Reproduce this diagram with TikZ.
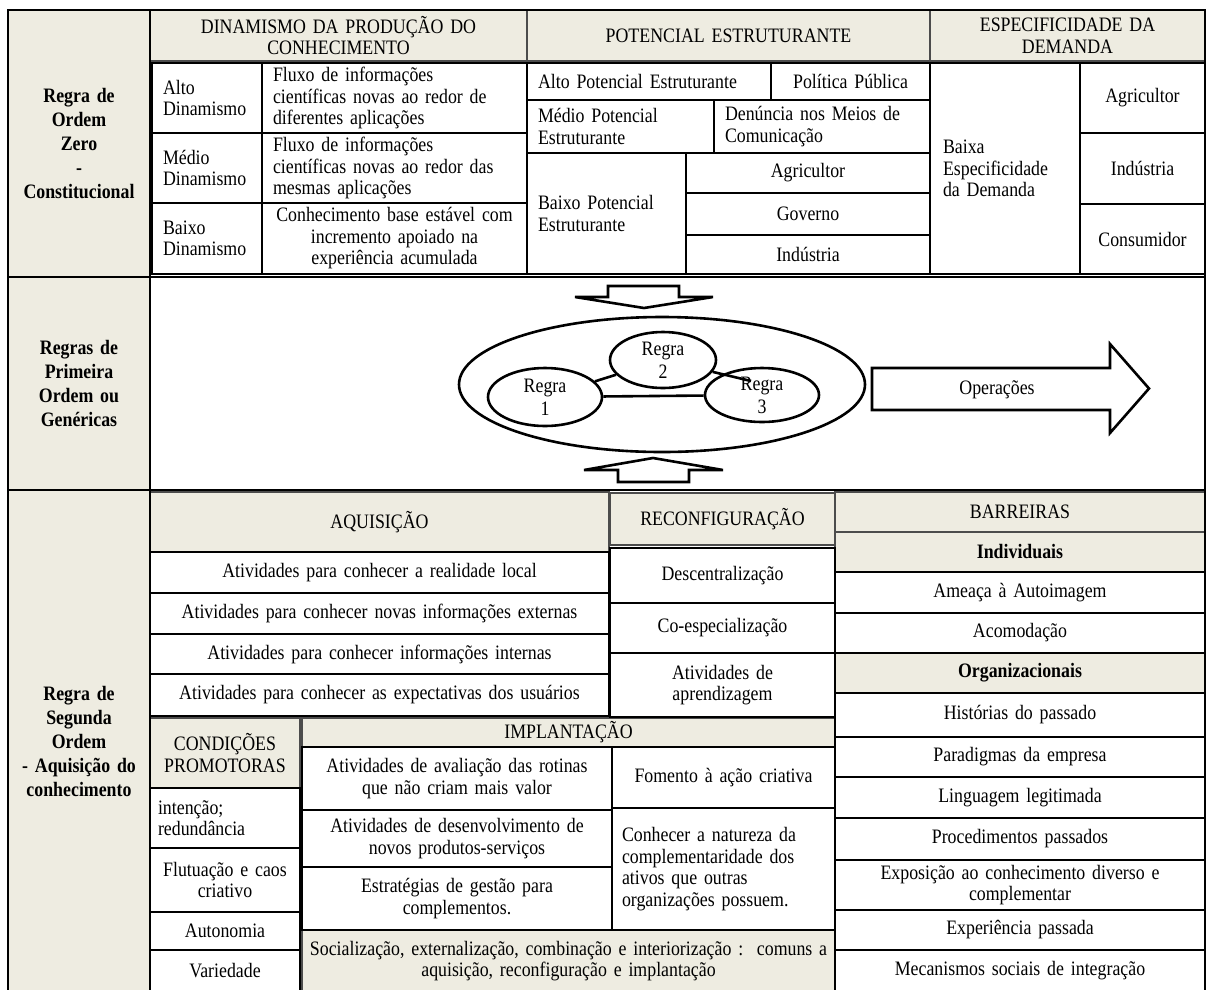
\documentclass[tikz,border=0pt]{standalone}
\usepackage{fontspec}
\setmainfont{Liberation Serif}[FakeStretch=0.87]
\usetikzlibrary{shapes.geometric}
\definecolor{beige}{HTML}{EEECE1}
% #1 xsep, #2 style, #3 name, #4 x1, #5 y1, #6 x2, #7 y2, #8 text
\newcommand{\mkcell}[8][4]{%
  \pgfmathsetmacro{\cellW}{#6-#4}%
  \pgfmathsetmacro{\cellH}{#7-#5}%
  \pgfmathsetmacro{\cellX}{(#4+#6)/2}%
  \pgfmathsetmacro{\cellY}{(#5+#7)/2}%
  \pgfmathsetmacro{\cellT}{#6-#4-2*#1}%
  \node[#2, minimum width=\cellW pt, minimum height=\cellH pt,
        text width=\cellT pt, inner xsep=#1pt] (#3) at (\cellX,\cellY) {#8};}
\tikzset{
  cellbase/.style={outer sep=0pt, inner ysep=0pt, anchor=center,
                   font=\fontsize{20.5}{21.5}\selectfont},
  wc/.style={cellbase, fill=white, draw=black, line width=2.6pt, align=center},
  wl/.style={wc, align=left},
  bc/.style={cellbase, fill=beige, draw=black!70, line width=1.2pt, align=center},
  bl/.style={bc, align=left},
  bb/.style={bc, font=\fontsize{20.5}{21.5}\selectfont\bfseries},
  side/.style={cellbase, fill=beige, draw=black, line width=1.5pt, align=center,
               font=\fontsize{20.5}{24}\selectfont\bfseries},
  ruleell/.style={ellipse, draw=black, line width=2.6pt, fill=white, inner sep=0pt,
                  align=center, font=\fontsize{20.5}{23}\selectfont},
  bigarrow/.style={draw=black, line width=2.6pt, fill=white, line join=miter},
  frame/.style={draw=black, line width=2pt},
}
\begin{document}
\begin{tikzpicture}[x=1pt,y=-1pt]
\useasboundingbox (0,0) rectangle (1210,989);
\fill[white] (0,0) rectangle (1210,989);

% ---------------- Section 1: Regra de Ordem Zero ----------------
\mkcell{side}{lz}{8}{10}{150}{277}{Regra de\\Ordem\\Zero\\-\\Constitucional}
\mkcell{bc}{h1}{150}{10}{527}{61}{DINAMISMO DA PRODUÇÃO DO\\CONHECIMENTO}
\mkcell{bc}{h2}{527}{10}{930}{61}{POTENCIAL ESTRUTURANTE}
\mkcell{bc}{h3}{930}{10}{1205}{61}{ESPECIFICIDADE DA\\DEMANDA}

\mkcell[11]{wl}{d1l}{152}{63}{262}{133}{Alto\\Dinamismo}
\mkcell[11]{wl}{d1r}{262}{63}{527}{133}{Fluxo de informações\\científicas novas ao redor de\\diferentes aplicações}
\mkcell[11]{wl}{d2l}{152}{133}{262}{203}{Médio\\Dinamismo}
\mkcell[11]{wl}{d2r}{262}{133}{527}{203}{Fluxo de informações\\científicas novas ao redor das\\mesmas aplicações}
\mkcell[11]{wl}{d3l}{152}{203}{262}{274}{Baixo\\Dinamismo}
\mkcell{wc}{d3r}{262}{203}{527}{274}{Conhecimento base estável com\\incremento apoiado na\\experiência acumulada}

\mkcell[11]{wl}{p1l}{527}{63}{771}{100}{Alto Potencial Estruturante}
\mkcell{wc}{p1r}{771}{63}{930}{100}{Política Pública}
\mkcell[11]{wl}{p2l}{527}{100}{714}{153}{Médio Potencial\\Estruturante}
\mkcell[11]{wl}{p2r}{714}{100}{930}{153}{Denúncia nos Meios de\\Comunicação}
\mkcell[11]{wl}{p3l}{527}{153}{686}{274}{Baixo Potencial\\Estruturante}
\mkcell{wc}{p3a}{686}{153}{930}{193}{Agricultor}
\mkcell{wc}{p3b}{686}{193}{930}{235}{Governo}
\mkcell{wc}{p3c}{686}{235}{930}{274}{Indústria}

\mkcell[13]{wl}{e1}{930}{63}{1080}{274}{Baixa\\Especificidade\\da Demanda}
\mkcell{wc}{e2a}{1080}{63}{1205}{133}{Agricultor}
\mkcell{wc}{e2b}{1080}{133}{1205}{204}{Indústria}
\mkcell{wc}{e2c}{1080}{204}{1205}{274}{Consumidor}

% ---------------- Section 2: Regras de Primeira Ordem ----------------
\mkcell{side}{ml}{8}{277}{150}{490}{Regras de\\Primeira\\Ordem ou\\Genéricas}

\draw[bigarrow] (608,286) -- (679,286) -- (679,297) -- (713,297) -- (644,308)
  -- (575,297) -- (608,297) -- cycle;
\draw[bigarrow] (618,482) -- (689,482) -- (689,470) -- (723,470) -- (653,458)
  -- (584,470) -- (618,470) -- cycle;

\node[ellipse, draw=black, line width=2.6pt, minimum width=406pt, minimum height=135pt,
      inner sep=0pt] (outer) at (662,384.5) {};
\node[ruleell, minimum width=114pt, minimum height=58pt] (r1) at (545,397) {Regra\\1};
\node[ruleell, minimum width=106pt, minimum height=56pt] (r2) at (663,360) {Regra\\2};
\node[ruleell, minimum width=114pt, minimum height=54pt, fill=none] (r3) at (762,395) {Regra\\3};
\coordinate (r3in) at (751,381);
\draw[line width=2.6pt] (r1) -- (r2);
\draw[line width=2.6pt] (r1) -- (r3);
\draw[line width=2.6pt] (r2) -- (r3in);

\draw[bigarrow] (872,368) -- (1110,368) -- (1110,344) -- (1149,388.5) -- (1110,433)
  -- (1110,410) -- (872,410) -- cycle;
\node[font=\fontsize{20.5}{21.5}\selectfont] (op) at (997,390) {Operações};

% ---------------- Section 3: Regra de Segunda Ordem ----------------
\mkcell{side}{bl}{8}{490}{150}{993}{Regra de\\Segunda\\Ordem\\- Aquisição do\\conhecimento}

\mkcell{bc}{aqh}{150}{492}{609}{552}{AQUISIÇÃO}
\mkcell{bc}{rch}{610}{493}{835}{545}{RECONFIGURAÇÃO}
\mkcell{bc}{bah}{835}{492}{1205}{532}{BARREIRAS}
\mkcell{bb}{bai}{835}{532}{1205}{572}{Individuais}
\mkcell{bb}{bao}{835}{653}{1205}{693}{Organizacionais}
\mkcell{bc}{cph}{150}{718}{300}{788}{CONDIÇÕES\\PROMOTORAS}
\mkcell{bc}{imh}{302}{718}{835}{747}{IMPLANTAÇÃO}
\mkcell{bc}{soc}{302}{930}{835}{992}{Socialização, externalização, combinação e interiorização :\ \ comuns a\\aquisição, reconfiguração e implantação}

\mkcell{wc}{aq1}{150}{552}{609}{593}{Atividades para conhecer a realidade local}
\mkcell{wc}{aq2}{150}{593}{609}{634}{Atividades para conhecer novas informações externas}
\mkcell{wc}{aq3}{150}{634}{609}{674}{Atividades para conhecer informações internas}
\mkcell{wc}{aq4}{150}{674}{609}{716}{Atividades para conhecer as expectativas dos usuários}

\mkcell{wc}{rc1}{610}{548}{835}{603}{Descentralização}
\mkcell{wc}{rc2}{610}{603}{835}{653}{Co-especialização}
\mkcell{wc}{rc3}{610}{653}{835}{717}{Atividades de\\aprendizagem}

\mkcell{wc}{ba1}{835}{572}{1205}{613}{Ameaça à Autoimagem}
\mkcell{wc}{ba2}{835}{613}{1205}{653}{Acomodação}
\mkcell{wc}{ba3}{835}{693}{1205}{737}{Histórias do passado}
\mkcell{wc}{ba4}{835}{737}{1205}{777}{Paradigmas da empresa}
\mkcell{wc}{ba5}{835}{777}{1205}{818}{Linguagem legitimada}
\mkcell{wc}{ba6}{835}{818}{1205}{860}{Procedimentos passados}
\mkcell{wc}{ba7}{835}{860}{1205}{910}{Exposição ao conhecimento diverso e\\complementar}
\mkcell{wc}{ba8}{835}{910}{1205}{950}{Experiência passada}
\mkcell{wc}{ba9}{835}{950}{1205}{992}{Mecanismos sociais de integração}

\mkcell[8]{wl}{cp1}{150}{788}{300}{848}{intenção;\\redundância}
\mkcell{wc}{cp2}{150}{848}{300}{912}{Flutuação e caos\\criativo}
\mkcell{wc}{cp3}{150}{912}{300}{950}{Autonomia}
\mkcell{wc}{cp4}{150}{950}{300}{992}{Variedade}

\mkcell{wc}{im1}{302}{747}{612}{810}{Atividades de avaliação das rotinas\\que não criam mais valor}
\mkcell{wc}{im2}{302}{810}{612}{867}{Atividades de desenvolvimento de\\novos produtos-serviços}
\mkcell{wc}{im3}{302}{867}{612}{930}{Estratégias de gestão para\\complementos.}
\mkcell{wc}{im4}{612}{747}{835}{808}{Fomento à ação criativa}
\mkcell[10]{wl}{im5}{612}{808}{835}{930}{Conhecer a natureza da\\complementaridade dos\\ativos que outras\\organizações possuem.}

% ---------------- frame ----------------
\draw[frame] (8,10) rectangle (1205,995);
\draw[frame] (8,277) -- (1205,277);
\draw[frame] (8,490) -- (1205,490);
\draw[frame] (150,10) -- (150,995);
\end{tikzpicture}
\end{document}
